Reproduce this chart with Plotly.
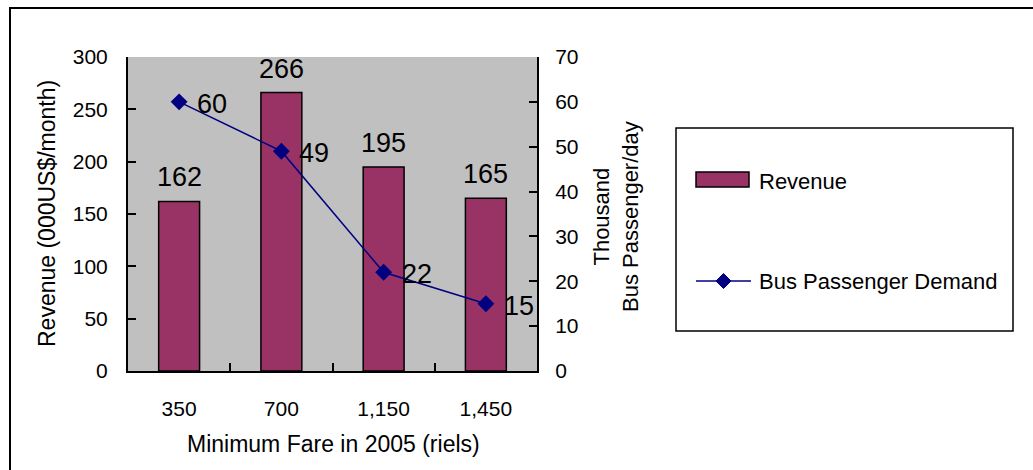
import plotly.graph_objects as go

# Data
fares = ["350", "700", "1,150", "1,450"]
revenue = [162, 266, 195, 165]          # 000 US$/month
passengers = [60, 49, 22, 15]           # thousand passengers/day

FONT = "Arial, Liberation Sans, sans-serif"
BAR_COLOR = "#993366"
LINE_COLOR = "#000080"

# plot area in pixels (used to place paper-referenced decorations)
W, H = 1033, 470
L, R, T, B = 128, 537, 57, 371


def px(x):
    return (x - L) / (R - L)


def py(y):
    return (B - y) / (B - T)


fig = go.Figure()

fig.add_trace(go.Bar(
    x=fares, y=revenue, name="Revenue",
    marker=dict(color=BAR_COLOR, line=dict(color="black", width=1.5)),
    width=0.4,
))

fig.add_trace(go.Scatter(
    x=fares, y=passengers, name="Bus Passenger Demand",
    yaxis="y2", mode="lines+markers",
    line=dict(color=LINE_COLOR, width=1.5),
    marker=dict(symbol="diamond", size=13, color=LINE_COLOR),
    cliponaxis=False,
))

label_font = dict(family=FONT, size=27, color="black")

# value labels above the bars (category index keeps numeric-looking
# category names from being read as linear positions)
annotations = [
    dict(x=i, y=v, xref="x", yref="y", text=str(v), showarrow=False,
         xanchor="center", yanchor="middle", yshift=24, font=label_font)
    for i, v in enumerate(revenue)
]
# value labels to the right of the line markers
annotations += [
    dict(x=i, y=v, xref="x", yref="y2", text=str(v), showarrow=False,
         xanchor="left", yanchor="middle", xshift=16, yshift=-2,
         font=label_font)
    for i, v in enumerate(passengers)
]

shapes = [
    # outer frame
    dict(type="rect", xref="paper", yref="paper",
         x0=px(10), x1=px(1045), y0=py(480), y1=py(8),
         line=dict(color="black", width=2), layer="below"),
    # legend box
    dict(type="rect", xref="paper", yref="paper",
         x0=px(676), x1=px(1013), y0=py(331), y1=py(128),
         line=dict(color="black", width=1.5), fillcolor="white"),
    # legend: bar swatch
    dict(type="rect", xref="paper", yref="paper",
         x0=px(696), x1=px(749), y0=py(187), y1=py(172),
         line=dict(color="black", width=1.5), fillcolor=BAR_COLOR),
    # legend: line sample
    dict(type="line", xref="paper", yref="paper",
         x0=px(696), x1=px(751), y0=py(281), y1=py(281),
         line=dict(color=LINE_COLOR, width=1.5)),
    # legend: diamond marker
    dict(type="path", xref="paper", yref="paper",
         path=(f"M {px(716)} {py(281)} L {px(723.5)} {py(273.5)} "
               f"L {px(731)} {py(281)} L {px(723.5)} {py(288.5)} Z"),
         line=dict(color=LINE_COLOR, width=1), fillcolor=LINE_COLOR),
]

annotations += [
    dict(text="Revenue", xref="paper", yref="paper",
         x=px(757), y=py(181), xanchor="left", yanchor="middle",
         showarrow=False, font=dict(family=FONT, size=22, color="black")),
    dict(text="Bus Passenger Demand", xref="paper", yref="paper",
         x=px(757), y=py(281), xanchor="left", yanchor="middle",
         showarrow=False, font=dict(family=FONT, size=22, color="black")),
    # axis titles
    dict(text="Minimum Fare in 2005 (riels)", xref="paper", yref="paper",
         x=px(333), y=py(444), xanchor="center", yanchor="middle",
         showarrow=False, font=dict(family=FONT, size=23, color="black")),
    dict(text="Revenue (000US$/month)", xref="paper", yref="paper",
         x=px(47), y=py(214), xanchor="center", yanchor="middle",
         textangle=-90,
         showarrow=False, font=dict(family=FONT, size=23, color="black")),
    dict(text="Thousand<br>Bus Passenger/day", xref="paper", yref="paper",
         x=px(616), y=py(217), xanchor="center", yanchor="middle",
         textangle=-90,
         showarrow=False, font=dict(family=FONT, size=22, color="black")),
]

fig.update_layout(
    width=W, height=H,
    margin=dict(l=L, r=W - R, t=T, b=H - B),
    paper_bgcolor="white",
    plot_bgcolor="#C0C0C0",
    showlegend=False,
    font=dict(family=FONT, size=21, color="black"),
    xaxis=dict(
        type="category", range=[-0.5, 3.5],
        showline=True, linecolor="black", linewidth=2,
        ticks="inside", ticklen=8, tickwidth=1.5, tickcolor="black",
        tickson="boundaries", showgrid=False,
        ticklabelstandoff=18,
        tickfont=dict(family=FONT, size=21, color="black"),
    ),
    yaxis=dict(
        range=[0, 300], dtick=50,
        showline=True, linecolor="black", linewidth=2,
        ticks="inside", ticklen=8, tickwidth=1.5, tickcolor="black",
        showgrid=False, zeroline=False,
        ticklabelstandoff=14,
        tickfont=dict(family=FONT, size=21, color="black"),
    ),
    yaxis2=dict(
        range=[0, 70], dtick=10, overlaying="y", side="right", anchor="x",
        showline=True, linecolor="black", linewidth=2,
        ticks="inside", ticklen=8, tickwidth=1.5, tickcolor="black",
        showgrid=False, zeroline=False,
        ticklabelstandoff=12,
        tickfont=dict(family=FONT, size=21, color="black"),
    ),
    bargap=0.6,
    shapes=shapes,
    annotations=annotations,
)

fig.write_html("out.html")
